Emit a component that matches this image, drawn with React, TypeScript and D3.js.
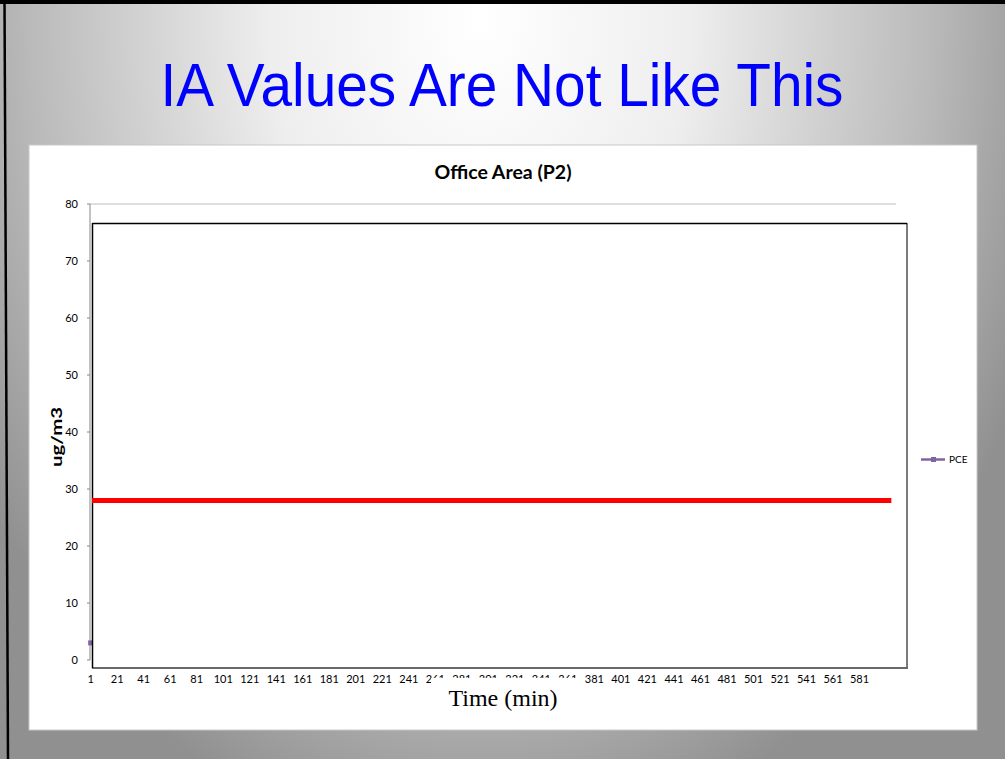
import React from "react";
import * as d3 from "d3";

// minutes 1..608 on the category axis
const minutes = d3.range(1, 609);
const tickMinutes = [1, 21, 41, 61, 81, 101, 121, 141, 161, 181, 201, 221, 241, 261, 281, 301, 321, 341, 361, 381, 401, 421, 441, 461, 481, 501, 521, 541, 561, 581];
const yTicks = [0, 10, 20, 30, 40, 50, 60, 70, 80];

// PCE series: only the first reading shows, the rest sits under the white box
const pceMinutes = [1];
const pceValues = [3];

// red level drawn over the chart
const limitMinutes = [2, 605];
const limitValues = [28, 28];

const W = 1005, H = 759;
const plot = { left: 90, right: 896, top: 204, bottom: 660 };

export default function App() {
  const x = d3.scaleLinear()
    .domain([minutes[0] - 0.5, minutes[minutes.length - 1] + 0.5])
    .range([plot.left, plot.right]);
  const y = d3.scaleLinear().domain([0, 80]).range([plot.bottom, plot.top]);

  const limitLine = d3.line<number>()
    .x((d, i) => x(limitMinutes[i]))
    .y(d => y(d));

  const calibri = "Lato, 'Open Sans', sans-serif";

  return (
    <svg width={W} height={H} style={{ position: "absolute", left: 0, top: 0, display: "block" }}>
      <defs>
        <radialGradient id="bg" gradientUnits="userSpaceOnUse" cx={480} cy={20} r={600}
          gradientTransform="translate(480,20) scale(1,1.4) translate(-480,-20)">
          <stop offset="0" stopColor="#ffffff" />
          <stop offset="0.35" stopColor="#eeeeee" />
          <stop offset="0.75" stopColor="#bababa" />
          <stop offset="1" stopColor="#909090" />
        </radialGradient>
      </defs>

      {/* slide */}
      <rect x={0} y={0} width={W} height={H} fill="url(#bg)" />
      <rect x={0} y={0} width={W} height={4} fill="#000" />
      <line x1={4.5} y1={0} x2={8} y2={H} stroke="#000" strokeWidth={2.5} />

      <text x={502} y={106} textAnchor="middle" fill="#0000ff"
        fontFamily="'Liberation Sans', Arial, sans-serif" fontSize={61}
        textLength={683} lengthAdjust="spacingAndGlyphs">IA Values Are Not Like This</text>

      {/* chart panel */}
      <rect x={29} y={145} width={948} height={585} fill="#fff" stroke="#c8c8c8" strokeWidth={1} />

      <text x={503} y={179} textAnchor="middle" fontFamily={calibri} fontWeight="bold" fontSize={18} fill="#000"
        textLength={137} lengthAdjust="spacingAndGlyphs">
        Office Area (P2)
      </text>

      {/* plot area frame */}
      <line x1={plot.left} x2={plot.right} y1={plot.top} y2={plot.top} stroke="#bdbdbd" strokeWidth={1} />
      <line x1={plot.left} x2={plot.left} y1={plot.top} y2={plot.bottom} stroke="#868686" strokeWidth={1} />

      {yTicks.map(t => (
        <g key={t}>
          <line x1={plot.left - 3} x2={plot.left} y1={y(t)} y2={y(t)} stroke="#868686" />
          <text x={78} y={y(t)} dy="0.35em" textAnchor="end" fontFamily={calibri} fontSize={11} fill="#000">{t}</text>
        </g>
      ))}

      <text transform={`translate(62,${437}) rotate(-90)`} textAnchor="middle"
        fontFamily={calibri} fontWeight="bold" fontSize={16} fill="#000"
        textLength={60} lengthAdjust="spacingAndGlyphs">ug/m3</text>

      {/* PCE series */}
      {pceValues.map((v, i) => (
        <rect key={i} x={x(pceMinutes[i]) - 2.5} y={y(v) - 2.5} width={5} height={5} fill="#8064a2" />
      ))}

      {/* x tick labels */}
      {tickMinutes.map(m => (
        <text key={m} x={x(m)} y={683} textAnchor="middle" fontFamily={calibri} fontSize={11} fill="#000">{m}</text>
      ))}

      {/* white box laid over the plot */}
      <rect x={92.5} y={223.5} width={814} height={444} fill="#fff" stroke="none" />
      <line x1={907} x2={907} y1={223} y2={669} stroke="#7a7a7a" strokeWidth={2} />
      <line x1={92} x2={908} y1={668} y2={668} stroke="#6a6a6a" strokeWidth={2} />
      <line x1={92.5} x2={907} y1={223.5} y2={223.5} stroke="#000" strokeWidth={1.5} />
      <line x1={92.5} x2={92.5} y1={223} y2={668} stroke="#000" strokeWidth={1.5} />

      {/* red level */}
      <path d={limitLine(limitValues) ?? ""} fill="none" stroke="#ff0000" strokeWidth={5} />

      {/* axis title box */}
      <rect x={431} y={678} width={147} height={36} fill="#fff" />
      <text x={503} y={706} textAnchor="middle" fontFamily="'Liberation Serif', 'Times New Roman', serif" fontSize={24} fill="#000">
        Time (min)
      </text>

      {/* legend */}
      <line x1={921} x2={945} y1={459.5} y2={459.5} stroke="#8064a2" strokeWidth={2.5} />
      <rect x={931} y={457} width={5} height={5} fill="#8064a2" />
      <text x={949} y={459.5} dy="0.35em" fontFamily={calibri} fontSize={10} fill="#000">PCE</text>
    </svg>
  );
}
